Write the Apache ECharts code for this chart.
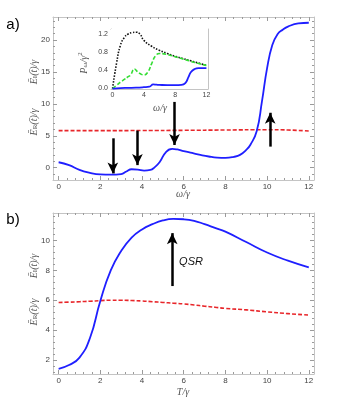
<!DOCTYPE html>
<html>
<head>
<meta charset="utf-8">
<script src="https://cdn.jsdelivr.net/npm/echarts@6/dist/echarts.min.js"></script>
<style>
  html, body { margin: 0; padding: 0; background: #fff; }
  #chart { width: 350px; height: 417px; }
</style>
</head>
<body>
<div id="chart"></div>
<script>
// panel a) main curves
const omegaA = [0, 0.5, 1, 1.5, 2, 2.5, 3, 3.25, 3.5, 3.8, 4.1, 4.4, 4.6, 4.85, 5.15, 5.45, 5.7, 6.0, 6.4, 6.8, 7.2, 7.6, 8.0, 8.4, 8.7, 9.0, 9.2, 9.5, 9.75, 10.0, 10.25, 10.5, 10.75, 11.0, 11.5, 12]
const blueA = [0.85, 0.4, -0.35, -0.8, -1.05, -1.1, -1.0, -0.6, -0.25, -0.3, -0.45, -0.35, 0.05, 0.9, 2.45, 2.95, 2.85, 2.6, 2.3, 2.0, 1.75, 1.58, 1.55, 1.7, 2.0, 2.8, 3.6, 5.7, 10.3, 15.6, 19.2, 20.9, 21.6, 22.1, 22.6, 22.7]
const omegaRedA = [0, 2, 4, 6, 8, 10, 11, 12]
const redA = [5.8, 5.8, 5.82, 5.85, 5.9, 5.95, 5.9, 5.75]

// arrows in panel a) : x position, tail, head
const arrowXA = [2.6, 3.78, 5.56, 10.15]
const arrowFromA = [4.6, 5.8, 10.3, 3.3]
const arrowToA = [-0.9, 0.4, 3.55, 8.6]

// inset: power spectrum
const omegaBlack = [0, 0.5, 1, 1.5, 2, 2.5, 3, 3.5, 4, 5, 6, 7, 8, 9, 10, 11, 12]
const blackIn = [0, 0.55, 0.95, 1.12, 1.2, 1.23, 1.24, 1.2, 1.06, 0.93, 0.84, 0.77, 0.71, 0.66, 0.61, 0.56, 0.51]
const omegaGreen = [0, 0.5, 1, 1.5, 2, 2.3, 2.8, 3.2, 3.6, 4.0, 4.5, 5.0, 5.5, 6, 7, 8, 9, 10, 11, 12]
const greenIn = [0, 0.07, 0.14, 0.2, 0.26, 0.3, 0.43, 0.37, 0.32, 0.3, 0.36, 0.55, 0.72, 0.77, 0.75, 0.7, 0.65, 0.6, 0.55, 0.51]
const omegaBlueIn = [0, 1, 2, 3, 4, 4.7, 5.2, 5.6, 6, 7, 8, 8.8, 9.3, 9.7, 10, 10.5, 11, 12]
const blueIn = [0, 0.01, 0.015, 0.02, 0.03, 0.04, 0.09, 0.085, 0.08, 0.075, 0.075, 0.08, 0.12, 0.25, 0.36, 0.43, 0.45, 0.45]

// panel b)
const tempB = [0, 0.5, 1, 1.5, 2, 2.5, 3, 3.5, 4, 4.5, 5, 5.5, 6, 6.5, 7, 7.5, 8, 9, 10, 11, 12]
const blueB = [1.4, 1.65, 2.15, 3.45, 5.95, 8.0, 9.3, 10.2, 10.75, 11.1, 11.35, 11.45, 11.43, 11.33, 11.1, 10.85, 10.6, 9.9, 9.2, 8.65, 8.2]
const redB = [5.85, 5.87, 5.9, 5.93, 5.97, 6.0, 6.0, 5.98, 5.95, 5.9, 5.85, 5.8, 5.75, 5.68, 5.6, 5.53, 5.45, 5.35, 5.22, 5.1, 5.0]
const arrowXB = [5.45]
const arrowFromB = [6.95]
const arrowToB = [10.5]

const sans = 'Liberation Sans'
const serif = 'Liberation Serif'

const pairs = (xs, ys) => xs.map((x, i) => [x, ys[i]])

const ticksAt = (r, step) => {
  const out = []
  const k0 = Math.ceil(r.min / step - 1e-9)
  for (let k = k0; k * step <= r.max + 1e-9; k++) out.push(Math.round(k * step * 1000) / 1000)
  return out
}

const xAxes = []
const yAxes = []

const axisCfg = (grid, position, r, labels, minor) => ({
  type: 'value',
  gridIndex: grid,
  position,
  min: r.min,
  max: r.max,
  axisLine: { show: !minor, onZero: false, lineStyle: { color: '#c4c4c4', width: 1 } },
  axisTick: {
    show: true,
    inside: true,
    length: minor ? 2 : 4,
    customValues: ticksAt(r, minor ? r.minor : r.major),
    lineStyle: { color: '#9a9a9a', width: 1 }
  },
  axisLabel: {
    show: labels,
    customValues: ticksAt(r, r.major),
    formatter: r.fmt,
    fontSize: r.fs,
    fontFamily: sans,
    color: '#444',
    margin: 3
  },
  splitLine: { show: false }
})

const addFrame = (grid, xr, yr) => {
  const xi = xAxes.length
  const yi = yAxes.length
  xAxes.push(axisCfg(grid, 'bottom', xr, true, false))
  xAxes.push(axisCfg(grid, 'bottom', xr, false, true))
  xAxes.push(axisCfg(grid, 'top', xr, false, false))
  xAxes.push(axisCfg(grid, 'top', xr, false, true))
  yAxes.push(axisCfg(grid, 'left', yr, true, false))
  yAxes.push(axisCfg(grid, 'left', yr, false, true))
  yAxes.push(axisCfg(grid, 'right', yr, false, false))
  yAxes.push(axisCfg(grid, 'right', yr, false, true))
  return { x: xi, y: yi }
}

const intFmt = (v) => String(Math.round(v))
const axA = addFrame(0,
  { min: -0.27, max: 12.25, major: 2, minor: 0.4, fmt: intFmt, fs: 8 },
  { min: -1.93, max: 23.6, major: 5, minor: 1, fmt: intFmt, fs: 8 })
const axIn = addFrame(1,
  { min: -0.2, max: 12.2, major: 4, minor: 0.8, fmt: intFmt, fs: 7 },
  { min: -0.01, max: 1.31, major: 0.4, minor: 0.08, fmt: (v) => v.toFixed(1), fs: 7 })
const axB = addFrame(2,
  { min: -0.27, max: 12.25, major: 2, minor: 0.4, fmt: intFmt, fs: 8 },
  { min: 1.05, max: 11.85, major: 2, minor: 0.4, fmt: intFmt, fs: 8 })

const curve = (ax, data, color, width, type, z) => ({
  type: 'line',
  xAxisIndex: ax.x,
  yAxisIndex: ax.y,
  data,
  showSymbol: false,
  smooth: 0.5,
  z: z || 2,
  lineStyle: { color, width, type: type || 'solid' }
})

const arrows = (ax, xs, from, to) => ({
  type: 'line',
  xAxisIndex: ax.x,
  yAxisIndex: ax.y,
  data: [],
  z: 5,
  markLine: {
    silent: true,
    animation: false,
    symbol: ['none', 'arrow'],
    symbolSize: [8, 11],
    label: { show: false },
    lineStyle: { color: '#000', width: 2.5, type: 'solid' },
    data: xs.map((x, i) => [{ coord: [x, from[i]] }, { coord: [x, to[i]] }])
  }
})

const eLabel = (sub, x, y) => ({
  type: 'text',
  x,
  y,
  rotation: Math.PI / 2,
  style: {
    text: '{m|Ē}{s|' + sub + '}{m|(t\u0304)/γ}',
    align: 'center',
    verticalAlign: 'middle',
    fill: '#555',
    rich: {
      m: { fontFamily: serif, fontStyle: 'italic', fontSize: 10, fill: '#555', verticalAlign: 'bottom', lineHeight: 12 },
      s: { fontFamily: serif, fontSize: 7, fill: '#555', verticalAlign: 'bottom', lineHeight: 12, padding: [3, 0, 0, 0] }
    }
  }
})

const plainText = (text, x, y, font, extra) => ({
  type: 'text',
  x,
  y,
  style: Object.assign({ text, align: 'center', verticalAlign: 'middle', fill: '#555', font }, extra || {})
})

const chart = echarts.init(document.getElementById('chart'))
chart.setOption({
  animation: false,
  backgroundColor: '#fff',
  grid: [
    { left: 53, top: 17, width: 261, height: 163 },
    { left: 111, top: 29, width: 97, height: 60, show: true, backgroundColor: '#fff', borderWidth: 0, z: 3 },
    { left: 53, top: 213, width: 261, height: 161 }
  ],
  xAxis: xAxes,
  yAxis: yAxes,
  series: [
    curve(axA, pairs(omegaRedA, redA), '#e8262a', 1.6, [4, 2]),
    curve(axA, pairs(omegaA, blueA), '#1f1fff', 1.8),
    arrows(axA, arrowXA, arrowFromA, arrowToA),
    curve(axIn, pairs(omegaBlack, blackIn), '#111', 1.6, [1.5, 1.5], 4),
    curve(axIn, pairs(omegaGreen, greenIn), '#33dd33', 1.6, [4, 2], 4),
    curve(axIn, pairs(omegaBlueIn, blueIn), '#1f1fff', 1.8, 'solid', 4),
    curve(axB, pairs(tempB, redB), '#e8262a', 1.6, [4, 2]),
    curve(axB, pairs(tempB, blueB), '#1f1fff', 1.8),
    arrows(axB, arrowXB, arrowFromB, arrowToB)
  ],
  graphic: [
    plainText('a)', 13, 25, '15px ' + sans, { fill: '#000' }),
    plainText('b)', 13, 220, '15px ' + sans, { fill: '#000' }),
    eLabel('I', 33, 72),
    eLabel('R', 33, 122),
    eLabel('I', 33, 266),
    eLabel('R', 33, 312),
    plainText('ω/γ', 183, 194, 'italic 10px ' + serif),
    plainText('T/γ', 183, 392, 'italic 10px ' + serif),
    plainText('ω/γ', 160, 108, 'italic 10px ' + serif),
    {
      type: 'text',
      x: 83,
      y: 63,
      rotation: Math.PI / 2,
      z: 10,
      style: {
        text: '{m|P}{s|ω}{m|/γ}{p|2}',
        align: 'center',
        verticalAlign: 'middle',
        rich: {
          m: { fontFamily: serif, fontStyle: 'italic', fontSize: 10, fill: '#555', verticalAlign: 'bottom', lineHeight: 12 },
          s: { fontFamily: serif, fontStyle: 'italic', fontSize: 7, fill: '#555', verticalAlign: 'bottom', lineHeight: 12, padding: [3, 0, 0, 0] },
          p: { fontFamily: serif, fontSize: 7, fill: '#555', verticalAlign: 'top', lineHeight: 12, padding: [0, 0, 4, 0] }
        }
      }
    },
    plainText('QSR', 191, 262, 'italic 11px ' + sans, { fill: '#111' })
  ]
})
</script>
</body>
</html>
